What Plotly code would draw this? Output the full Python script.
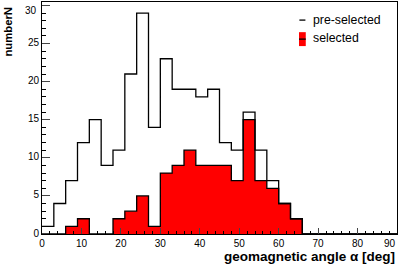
import plotly.graph_objects as go

bin_width = 3
bin_lo = [i * 3 for i in range(30)]
pre_selected = [1, 4, 7, 12, 15, 9, 11, 21, 29, 14, 23, 19, 19, 18, 19, 12, 11, 16, 11, 7, 4, 2,
                0, 0, 0, 0, 0, 0, 0, 0]
selected = [0, 0, 1, 2, 0, 0, 2, 3, 5, 1, 8, 9, 11, 9, 9, 9, 7, 15, 7, 6, 4, 2,
            0, 0, 0, 0, 0, 0, 0, 0]
x_ticks = [0, 10, 20, 30, 40, 50, 60, 70, 80, 90]
y_ticks = [0, 5, 10, 15, 20, 25, 30]

x_steps = bin_lo + [bin_lo[-1] + bin_width]
FONT = "Liberation Sans"

fig = go.Figure()
fig.add_trace(go.Scatter(
    x=x_steps, y=selected + [0], mode="lines", line=dict(shape="hv", color="black", width=1.3),
    fill="tozeroy", fillcolor="#ff0000", name="selected", showlegend=False, hoverinfo="skip"))
fig.add_trace(go.Scatter(
    x=x_steps, y=pre_selected + [0], mode="lines", line=dict(shape="hv", color="black", width=1.3),
    name="pre-selected", showlegend=False))

# legend (drawn manually to mimic ROOT style)
fig.add_shape(type="line", xref="paper", yref="paper", x0=0.725, x1=0.742, y0=0.922, y1=0.922,
              line=dict(color="black", width=1.3))
fig.add_shape(type="rect", xref="paper", yref="paper", x0=0.724, x1=0.743, y0=0.81, y1=0.87,
              fillcolor="#ff0000", line=dict(width=0))
fig.add_shape(type="line", xref="paper", yref="paper", x0=0.724, x1=0.743, y0=0.84, y1=0.84,
              line=dict(color="black", width=1.3))
fig.add_annotation(text="pre-selected", xref="paper", yref="paper", x=0.757, y=0.922,
                   xanchor="left", yanchor="middle", showarrow=False,
                   font=dict(family=FONT, size=12.3, color="black"))
fig.add_annotation(text="selected", xref="paper", yref="paper", x=0.757, y=0.845,
                   xanchor="left", yanchor="middle", showarrow=False,
                   font=dict(family=FONT, size=12.3, color="black"))
fig.add_annotation(text="<b>geomagnetic angle α [deg]</b>", xref="paper", yref="paper", x=1.0, y=-0.055,
                   xanchor="right", yanchor="top", showarrow=False,
                   font=dict(family=FONT, size=13.5, color="black"))
fig.add_annotation(text="<b>numberN</b>", xref="paper", yref="paper", x=-0.097, y=0.987,
                   xanchor="center", yanchor="top", textangle=-90, showarrow=False,
                   font=dict(family=FONT, size=11.3, color="black"))
# edge tick labels, nudged inward as ROOT does
fig.add_annotation(text=str(x_ticks[-1]), x=x_ticks[-1], y=0, xref="x", yref="paper",
                   xanchor="right", yanchor="top", yshift=-2, xshift=1, showarrow=False,
                   font=dict(family=FONT, size=10, color="black"))
fig.add_annotation(text=str(y_ticks[-1]), x=0, y=y_ticks[-1], xref="paper", yref="y",
                   xanchor="right", yanchor="middle", yshift=-5, xshift=-3, showarrow=False,
                   font=dict(family=FONT, size=10, color="black"))

fig.update_layout(
    width=399, height=268,
    margin=dict(l=42, r=2, t=2, b=34, autoexpand=False),
    paper_bgcolor="white", plot_bgcolor="white",
    showlegend=False,
    font=dict(family=FONT, size=10, color="black"),
)
fig.update_xaxes(range=[0, 90], tickvals=x_ticks, ticktext=[str(v) for v in x_ticks[:-1]] + [""],
                 ticks="inside", ticklen=6, tickwidth=1,
                 minor=dict(dtick=2, ticks="inside", ticklen=3, tickcolor="black"),
                 showline=True, linecolor="black", linewidth=1, mirror=True, automargin=False,
                 showgrid=False, zeroline=False, tickfont=dict(family=FONT, size=10))
fig.update_yaxes(range=[0, 30.45], tickvals=y_ticks, ticktext=[str(v) for v in y_ticks[:-1]] + [""],
                 ticks="inside", ticklen=8, tickwidth=1, ticklabelshift=-1,
                 minor=dict(dtick=1, ticks="inside", ticklen=4, tickcolor="black"),
                 showline=True, linecolor="black", linewidth=1, mirror=True, automargin=False,
                 showgrid=False, zeroline=False, tickfont=dict(family=FONT, size=10))

fig.write_html("out.html", config={"displayModeBar": False},
               post_script="document.body.style.margin='0';document.body.style.overflow='hidden';")
